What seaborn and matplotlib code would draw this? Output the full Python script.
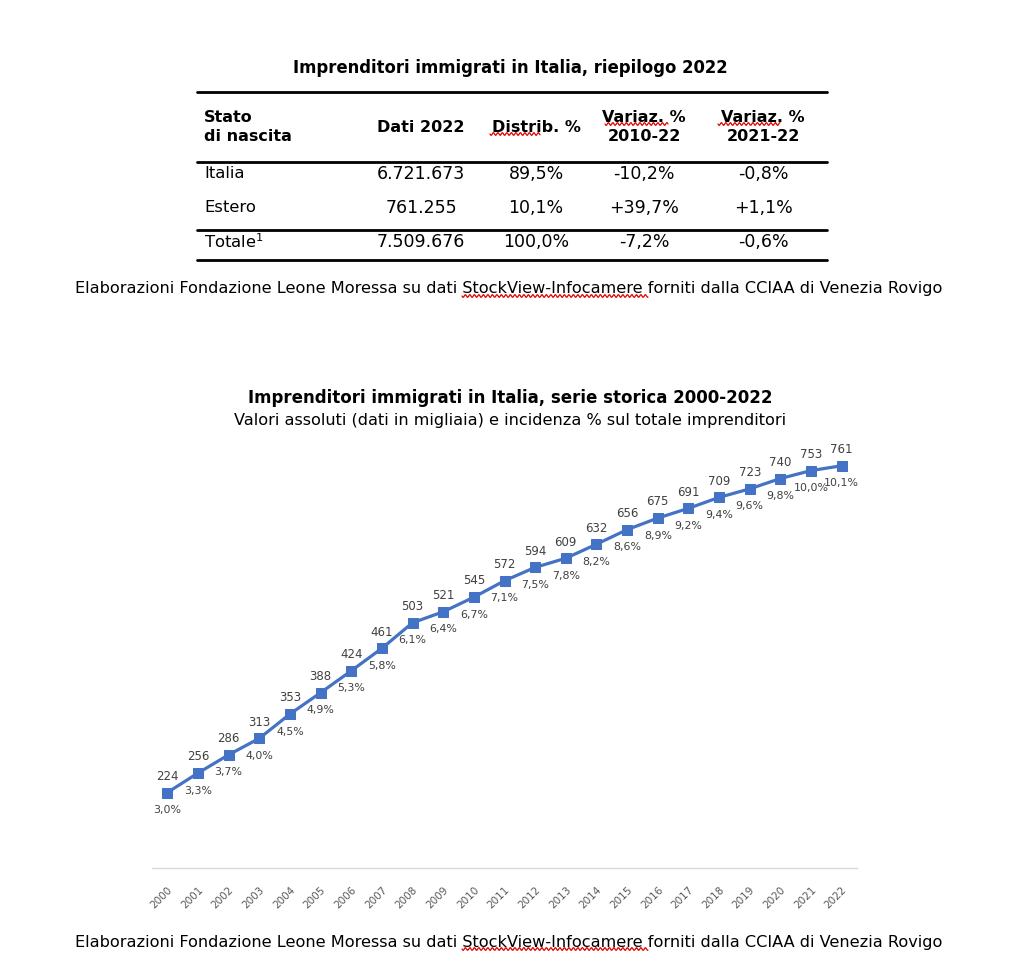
import numpy as np
import pandas as pd
import matplotlib
matplotlib.use("Agg")
import matplotlib.pyplot as plt
from matplotlib.lines import Line2D
import seaborn as sns

# ---------------- data ----------------
years = [str(y) for y in range(2000, 2023)]
imprenditori = [224, 256, 286, 313, 353, 388, 424, 461, 503, 521, 545, 572,
                594, 609, 632, 656, 675, 691, 709, 723, 740, 753, 761]
incidenza = [3.0, 3.3, 3.7, 4.0, 4.5, 4.9, 5.3, 5.8, 6.1, 6.4, 6.7, 7.1,
             7.5, 7.8, 8.2, 8.6, 8.9, 9.2, 9.4, 9.6, 9.8, 10.0, 10.1]

table_title = "Imprenditori immigrati in Italia, riepilogo 2022"
table_header = ["Stato\ndi nascita", "Dati 2022", "Distrib. %", "Variaz. %\n2010-22", "Variaz. %\n2021-22"]
table_rows = [
    ["Italia", "6.721.673", "89,5%", "-10,2%", "-0,8%"],
    ["Estero", "761.255", "10,1%", "+39,7%", "+1,1%"],
    ["Totale$^1$", "7.509.676", "100,0%", "-7,2%", "-0,6%"],
]
source = "Elaborazioni Fondazione Leone Moressa su dati StockView-Infocamere forniti dalla CCIAA di Venezia Rovigo"
chart_title = "Imprenditori immigrati in Italia, serie storica 2000-2022"
chart_subtitle = "Valori assoluti (dati in migliaia) e incidenza % sul totale imprenditori"

# ---------------- figure ----------------
sns.set_theme(style="white")
plt.rcParams['font.family'] = ['DejaVu Sans']
W, H = 1030, 974
fig = plt.figure(figsize=(W / 100, H / 100), dpi=100)
fig.patch.set_facecolor("white")

def fx(px):
    return px / W

def fy(py):
    return 1 - py / H

def hline(x0, x1, y, lw=2.0, color="black"):
    fig.add_artist(Line2D([fx(x0), fx(x1)], [fy(y), fy(y)], lw=lw, color=color,
                          transform=fig.transFigure))

def squiggle(x0, x1, y):
    xs = np.linspace(x0, x1, int((x1 - x0) * 3))
    ys = y + 1.3 * np.sin(2 * np.pi * (xs - x0) / 4.5)
    fig.add_artist(Line2D(fx(xs), fy(ys), lw=0.9, color="#E00000",
                          transform=fig.transFigure))

text_col = "#000000"

# table title
fig.text(fx(510), fy(68), table_title, ha="center", va="center",
         fontsize=11.9, fontweight="bold", color=text_col)

# table lines
hline(197, 827, 92)
hline(197, 827, 162)
hline(197, 827, 230)
hline(197, 827, 260)

col_x = [204, 421, 536, 644, 763]
# header
fig.text(fx(col_x[0]), fy(127), table_header[0], ha="left", va="center",
         fontsize=11.5, fontweight="bold", linespacing=1.3, color=text_col)
for i in range(1, 5):
    fig.text(fx(col_x[i]), fy(127), table_header[i], ha="center", va="center",
             fontsize=11.5, fontweight="bold", linespacing=1.3, color=text_col)
squiggle(490, 540, 134)
squiggle(605, 668, 124)
squiggle(718, 780, 124)

row_y = [174, 208, 242]
for r, y in zip(table_rows, row_y):
    fig.text(fx(col_x[0]), fy(y), r[0], ha="left", va="center", fontsize=11.8, color=text_col)
    for i in range(1, 5):
        fig.text(fx(col_x[i]), fy(y), r[i], ha="center", va="center", fontsize=12.5, color=text_col)

# source lines
fig.text(fx(509), fy(289), source, ha="center", va="center", fontsize=11.6, color=text_col)
fig.text(fx(509), fy(942), source, ha="center", va="center", fontsize=11.6, color=text_col)
squiggle(462, 648, 296)
squiggle(462, 648, 949)

# chart titles
fig.text(fx(510), fy(398), chart_title, ha="center", va="center",
         fontsize=12, fontweight="bold", color=text_col)
fig.text(fx(510), fy(420), chart_subtitle, ha="center", va="center",
         fontsize=11.6, color=text_col)

# ---------------- line chart ----------------
ax = fig.add_axes([fx(152), 1 - 868 / H, (857 - 152) / W, (868 - 442) / H])
df = pd.DataFrame({"pos": np.arange(len(years)), "val": imprenditori, "pct": incidenza})
blue = "#4472C4"
sns.lineplot(data=df, x="pos", y="val", ax=ax, color=blue, lw=2.3,
             marker="s", markersize=6.5, markeredgecolor=blue, markerfacecolor=blue)

ax.set_xlim(-0.5, len(years) - 0.5)
ax.set_ylim(100, 800)
ax.set_xticks(df["pos"])
ax.set_xticklabels(years, rotation=45, ha="right", rotation_mode="anchor",
                   fontsize=7.5, color="#595959")
ax.tick_params(axis="x", length=0, pad=12)
ax.set_yticks([])
ax.set_xlabel("")
ax.set_ylabel("")
for s in ["top", "left", "right"]:
    ax.spines[s].set_visible(False)
ax.spines["bottom"].set_color("#D9D9D9")
ax.spines["bottom"].set_linewidth(1.0)

lab_col = "#404040"
for p, v, c in zip(df["pos"], df["val"], df["pct"]):
    ax.annotate(f"{v}", (p, v), xytext=(0, 7), textcoords="offset points",
                ha="center", va="bottom", fontsize=8.5, color=lab_col)
    ax.annotate(f"{c:.1f}%".replace(".", ","), (p, v), xytext=(0, -9),
                textcoords="offset points", ha="center", va="top",
                fontsize=7.9, color=lab_col)

fig.savefig("out.png", dpi=100, facecolor="white")
